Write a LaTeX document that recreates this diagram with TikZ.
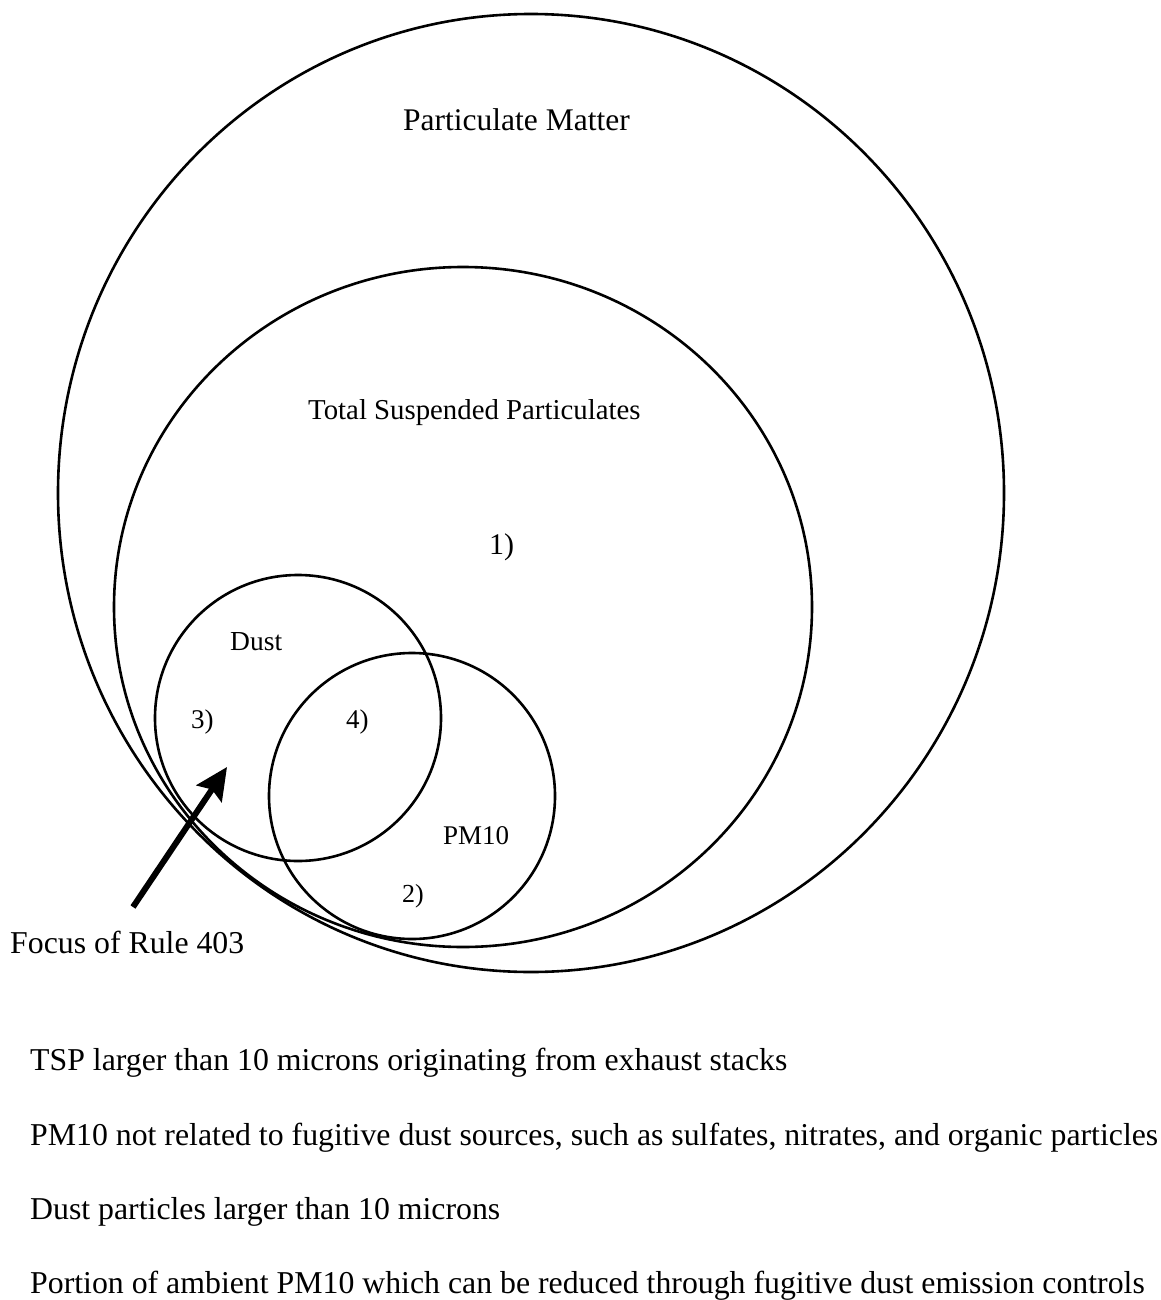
\documentclass[tikz,border=0pt]{standalone}
\usepackage{fontspec}
\setmainfont{Liberation Serif}
\usetikzlibrary{arrows.meta}
\tikzset{
  setline/.style={draw=black, line width=2.6pt},
  lbl/.style={inner sep=0pt, anchor=base west, text=black},
  pointer/.style={line width=6pt, -{Stealth[length=32pt, width=30pt, inset=5pt]}},
}
\newcommand{\fsz}[1]{\fontsize{#1}{#1}\selectfont}
\begin{document}
\begin{tikzpicture}[x=1pt, y=-1pt]
\useasboundingbox (0,0) rectangle (1160,1300);
\fill[white] (0,0) rectangle (1160,1300);
% sets
\draw[setline] (531,493) ellipse [x radius=473pt, y radius=479pt];
\draw[setline] (463,607) ellipse [x radius=349pt, y radius=340pt];
\draw[setline] (298,718) circle [radius=143pt];
\draw[setline] (412,796) circle [radius=143pt];
% labels
\node[lbl] (pm) at (403,131) {\fsz{31.5}Particulate Matter};
\node[lbl] (tsp) at (308,419) {\fsz{28.8}Total Suspended Particulates};
\node[lbl] (one) at (489,554) {\fsz{30}1)};
\node[lbl] (dust) at (230,650) {\fsz{27.5}Dust};
\node[lbl] (three) at (191,728) {\fsz{27}3)};
\node[lbl] (four) at (346,728) {\fsz{27}4)};
\node[lbl] (pmten) at (443,844) {\fsz{27}PM10};
\node[lbl] (two) at (402,902) {\fsz{26}2)};
\node[lbl] (focus) at (10,953) {\fsz{31.8}Focus of Rule 403};
% arrow
\coordinate (tail) at (133,907);
\coordinate (tip) at (227,767);
\draw[pointer] (tail) -- (tip);
% legend
\node[lbl] (l1) at (30,1070) {\fsz{31.8}TSP larger than 10 microns originating from exhaust stacks};
\node[lbl] (l2) at (30,1145) {\fsz{31.8}PM10 not related to fugitive dust sources, such as sulfates, nitrates, and organic particles};
\node[lbl] (l3) at (30,1219) {\fsz{31.8}Dust particles larger than 10 microns};
\node[lbl] (l4) at (30,1293) {\fsz{31.8}Portion of ambient PM10 which can be reduced through fugitive dust emission controls};
\end{tikzpicture}
\end{document}
